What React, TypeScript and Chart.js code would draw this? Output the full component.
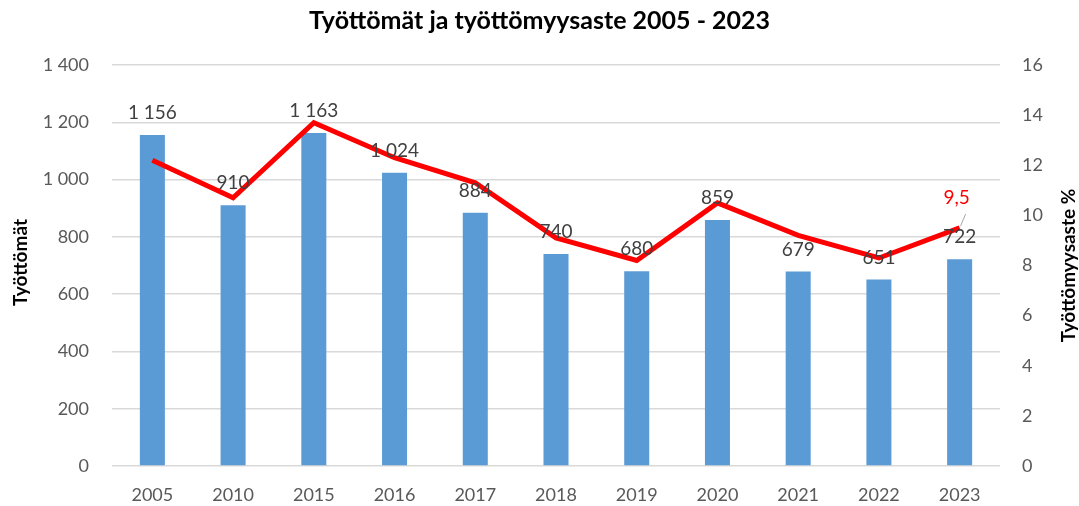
import React, { useEffect, useRef } from "react";
import { Chart, registerables } from "chart.js";

Chart.register(...registerables);

const categories = ["2005", "2010", "2015", "2016", "2017", "2018", "2019", "2020", "2021", "2022", "2023"];
const unemployed = [1156, 910, 1163, 1024, 884, 740, 680, 859, 679, 651, 722];
const rate = [12.2, 10.7, 13.7, 12.3, 11.3, 9.1, 8.2, 10.5, 9.2, 8.3, 9.5];
const rateLabelIndex = 10;
const rateLabelText = "9,5";

const titleText = "Työttömät ja työttömyysaste 2005 - 2023";
const leftTitle = "Työttömät";
const rightTitle = "Työttömyysaste %";

const FONT = "Lato";

const fmt = (v: number) => {
  const s = Math.round(v).toString();
  return s.replace(/\B(?=(\d{3})+(?!\d))/g, " ");
};

const labelsPlugin = {
  id: "customLabels",
  afterDatasetsDraw(chart: any) {
    const ctx = chart.ctx;
    ctx.save();
    const barMeta = chart.getDatasetMeta(1);
    ctx.font = `19px ${FONT}`;
    ctx.fillStyle = "#404040";
    ctx.textAlign = "center";
    ctx.textBaseline = "middle";
    barMeta.data.forEach((el: any, i: number) => {
      ctx.fillText(fmt(unemployed[i]), el.x, el.y - 22);
    });
    const lineMeta = chart.getDatasetMeta(0);
    const p = lineMeta.data[rateLabelIndex];
    if (p) {
      ctx.strokeStyle = "#a6a6a6";
      ctx.lineWidth = 1;
      ctx.beginPath();
      ctx.moveTo(p.x + 1, p.y - 2);
      ctx.lineTo(p.x + 6, p.y - 14);
      ctx.stroke();
      ctx.fillStyle = "#ff0000";
      ctx.fillText(rateLabelText, p.x - 3, p.y - 30);
    }
    ctx.restore();
  },
  afterDraw(chart: any) {
    const ctx = chart.ctx;
    const area = chart.chartArea;
    const cy = (area.top + area.bottom) / 2;
    ctx.save();
    ctx.font = `bold 19px ${FONT}`;
    ctx.fillStyle = "#000000";
    ctx.textAlign = "center";
    ctx.textBaseline = "middle";
    ctx.translate(21, cy - 3);
    ctx.rotate(-Math.PI / 2);
    ctx.fillText(leftTitle, 0, 0);
    ctx.restore();
    ctx.save();
    ctx.font = `bold 19px ${FONT}`;
    ctx.fillStyle = "#000000";
    ctx.textAlign = "center";
    ctx.textBaseline = "middle";
    ctx.translate(1069, cy);
    ctx.rotate(-Math.PI / 2);
    ctx.fillText(rightTitle, 0, 0);
    ctx.restore();
  },
};

export default function App() {
  const ref = useRef<HTMLCanvasElement>(null);
  useEffect(() => {
    if (!ref.current) return;
    const chart = new Chart(ref.current, {
      type: "bar",
      data: {
        labels: categories,
        datasets: [
          {
            type: "line",
            label: "Työttömyysaste %",
            data: rate,
            yAxisID: "y1",
            borderColor: "#ff0000",
            backgroundColor: "#ff0000",
            borderWidth: 5,
            pointRadius: 0,
            tension: 0,
            order: 0,
          } as any,
          {
            type: "bar",
            label: "Työttömät",
            data: unemployed,
            yAxisID: "y",
            backgroundColor: "#5b9bd5",
            barPercentage: 0.31,
            categoryPercentage: 1,
            order: 1,
          },
        ],
      },
      options: {
        responsive: false,
        animation: false,
        devicePixelRatio: 1,
        layout: { padding: { left: 0, right: 0, top: 0, bottom: 0 } },
        plugins: {
          legend: { display: false },
          tooltip: { enabled: false },
          title: {
            display: true,
            text: titleText,
            color: "#000000",
            font: { family: FONT, size: 25, weight: "bold" },
            padding: { top: 6, bottom: 29 },
          },
        },
        scales: {
          x: {
            grid: { display: false, drawTicks: false },
            border: { display: false },
            ticks: {
              color: "#595959",
              font: { family: FONT, size: 18 },
              padding: 18,
              maxRotation: 0,
            },
            afterFit: (s: any) => {
              s.height = 40;
            },
          },
          y: {
            position: "left",
            min: 0,
            max: 1400,
            ticks: {
              stepSize: 200,
              color: "#595959",
              font: { family: FONT, size: 18 },
              padding: 23,
              callback: (v: any) => fmt(Number(v)),
            },
            grid: { color: "#d9d9d9", lineWidth: 1.5, drawTicks: false },
            border: { display: false },
            afterFit: (s: any) => {
              s.width = 112;
            },
          },
          y1: {
            position: "right",
            min: 0,
            max: 16,
            ticks: {
              stepSize: 2,
              color: "#595959",
              font: { family: FONT, size: 18 },
              padding: 22,
            },
            grid: { display: false, drawTicks: false },
            border: { display: false },
            afterFit: (s: any) => {
              s.width = 79;
            },
          },
        },
      },
      plugins: [labelsPlugin],
    });
    return () => chart.destroy();
  }, []);
  return (
    <div style={{ position: "absolute", left: 0, top: 0, width: 1079, height: 506, background: "#fff" }}>
      <canvas ref={ref} width={1079} height={506} style={{ display: "block" }} />
    </div>
  );
}
